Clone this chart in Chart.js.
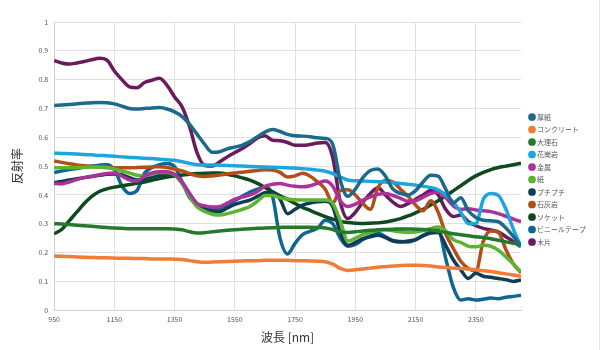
<!DOCTYPE html>
<html>
<head>
<meta charset="utf-8">
<script src="https://cdn.jsdelivr.net/npm/chart.js@4.4.1/dist/chart.umd.min.js"></script>
<style>
  html, body { margin: 0; padding: 0; background: #fff; }
  #wrap { width: 600px; height: 350px; position: relative; box-sizing: border-box; border-right: 1px solid #e4e4e4; }
</style>
</head>
<body>
<div id="wrap"><canvas id="spectra_chart" width="600" height="350"></canvas></div>
<script>
// wavelength grid (nm), 25 nm steps
let wavelengths = []
for (let w = 950; w <= 2500; w += 25) wavelengths.push(w)

let xTicks = [950, 1150, 1350, 1550, 1750, 1950, 2150, 2350]

let names = ['厚紙', 'コンクリート', '大理石', '花崗岩', '金属', '紙', 'プチプチ', '石灰岩', 'ソケット', 'ビニールテープ', '木片']
let colors = ['#1b6a8a', '#f07c35', '#24792d', '#1ca6dd', '#ad319b', '#5cb432', '#103c56', '#b04f17', '#0e4a1d', '#0f6690', '#6a1b5e']

let atsugami = [.710, .712, .714, .716, .718, .720, .721, .720, .716, .708, .700, .698, .700, .702, .703, .698, .688, .672, .645, .610, .575, .548, .550, .560, .566, .573, .585, .602, .618, .627, .620, .610, .605, .604, .602, .598, .596, .575, .451, .395, .420, .460, .485, .490, .465, .420, .405, .400, .415, .445, .468, .465, .420, .372, .390, .345, .322, .312, .310, .307, .285, .255, .225]
let concrete = [.188, .187, .186, .185, .184, .183, .182, .182, .181, .180, .180, .179, .179, .178, .178, .178, .177, .176, .172, .168, .166, .167, .168, .169, .170, .171, .172, .172, .173, .173, .173, .173, .172, .172, .171, .170, .168, .160, .145, .138, .140, .143, .146, .149, .151, .153, .155, .156, .156, .155, .153, .150, .148, .146, .145, .143, .140, .137, .134, .130, .126, .122, .118]
let marble = [.300, .299, .297, .295, .293, .291, .289, .287, .285, .284, .283, .283, .283, .283, .283, .283, .282, .279, .272, .268, .269, .272, .275, .277, .279, .281, .283, .284, .285, .286, .287, .288, .288, .288, .288, .287, .285, .280, .272, .270, .272, .275, .277, .279, .280, .281, .282, .282, .281, .280, .278, .274, .270, .265, .262, .258, .255, .252, .248, .243, .237, .232, .228]
let granite = [.545, .544, .543, .542, .540, .539, .537, .536, .534, .532, .530, .529, .527, .526, .524, .522, .520, .515, .509, .505, .504, .504, .503, .502, .501, .500, .499, .498, .497, .496, .495, .494, .493, .491, .489, .486, .482, .474, .462, .452, .449, .448, .447, .446, .445, .442, .440, .437, .434, .430, .426, .418, .400, .375, .340, .300, .300, .385, .405, .398, .350, .280, .220]
let metal = [.440, .438, .445, .453, .460, .465, .470, .474, .476, .465, .452, .448, .466, .476, .480, .480, .472, .445, .405, .370, .362, .358, .360, .372, .385, .393, .400, .412, .430, .437, .440, .434, .430, .428, .432, .440, .448, .430, .380, .360, .368, .382, .393, .402, .405, .398, .388, .378, .380, .392, .405, .410, .390, .362, .350, .352, .348, .345, .342, .335, .326, .316, .307]
let paper = [.494, .494, .494, .495, .496, .497, .497, .495, .490, .483, .476, .468, .466, .472, .478, .478, .470, .440, .395, .358, .343, .333, .330, .335, .342, .350, .360, .378, .398, .398, .390, .386, .383, .382, .382, .382, .382, .370, .310, .240, .250, .262, .270, .277, .279, .276, .272, .270, .271, .276, .283, .289, .275, .245, .235, .222, .220, .225, .222, .208, .185, .160, .133]
let bubble = [.443, .447, .452, .456, .460, .464, .468, .472, .473, .470, .460, .452, .455, .462, .468, .471, .468, .440, .402, .368, .352, .344, .342, .355, .367, .375, .382, .395, .408, .410, .385, .335, .350, .365, .372, .376, .378, .360, .270, .225, .235, .248, .255, .260, .252, .240, .237, .240, .245, .258, .268, .270, .225, .175, .140, .110, .128, .118, .114, .110, .106, .100, .105]
let limestone = [.518, .513, .508, .504, .501, .499, .497, .495, .494, .494, .494, .495, .496, .497, .498, .495, .490, .483, .474, .466, .464, .466, .469, .473, .476, .479, .482, .485, .487, .486, .478, .462, .466, .475, .465, .445, .420, .372, .415, .418, .400, .370, .350, .425, .450, .445, .420, .395, .365, .345, .380, .340, .265, .215, .170, .145, .135, .240, .275, .270, .210, .160, .130]
let socket = [.265, .280, .310, .340, .370, .395, .412, .421, .427, .432, .436, .440, .445, .451, .457, .462, .466, .469, .472, .474, .475, .476, .476, .472, .466, .459, .451, .440, .426, .411, .397, .384, .370, .357, .346, .335, .325, .316, .308, .304, .302, .301, .302, .303, .306, .311, .318, .327, .338, .350, .365, .380, .397, .414, .432, .450, .466, .478, .488, .495, .500, .505, .510]
let vinyl = [.478, .483, .488, .492, .496, .500, .503, .505, .488, .432, .405, .415, .475, .495, .505, .509, .498, .445, .390, .368, .360, .350, .352, .368, .380, .395, .410, .420, .428, .395, .250, .195, .232, .262, .274, .285, .312, .300, .250, .222, .228, .245, .258, .267, .255, .242, .238, .237, .245, .260, .272, .278, .180, .080, .035, .040, .035, .038, .042, .040, .045, .048, .052]
let wood = [.866, .858, .854, .858, .863, .869, .874, .868, .830, .800, .775, .772, .790, .798, .805, .780, .740, .705, .636, .545, .502, .500, .515, .532, .547, .561, .578, .598, .605, .590, .588, .582, .572, .572, .575, .580, .582, .530, .375, .318, .340, .375, .405, .425, .400, .375, .360, .370, .385, .400, .415, .400, .350, .325, .330, .307, .293, .284, .278, .272, .255, .238, .220]

let seriesValues = [atsugami, concrete, marble, granite, metal, paper, bubble, limestone, socket, vinyl, wood]

let font = "'Noto Sans CJK JP', 'Noto Sans', sans-serif"

let datasets = names.map((name, i) => ({
    label: name,
    data: wavelengths.map((w, j) => ({ x: w, y: seriesValues[i][j] })),
    borderColor: colors[i],
    backgroundColor: colors[i],
    borderWidth: 3.5,
    pointRadius: 0,
    cubicInterpolationMode: 'monotone'
}))

// nudge the legend a little, like the original
let legendShift = {
    id: 'legendShift',
    afterLayout(chart) {
        chart.legend.left += 4
        chart.legend.right += 4
        chart.legend.top -= 6
        chart.legend.bottom -= 6
    }
}

let ctx = document.querySelector('#spectra_chart').getContext('2d')

let spectra_chart = new Chart(ctx, {
    type: 'line',
    data: { datasets: datasets },
    plugins: [legendShift],
    options: {
        responsive: false,
        animation: false,
        layout: { padding: { left: 6, top: 22, right: 8, bottom: 1 } },
        plugins: {
            tooltip: { enabled: false },
            legend: {
                position: 'right',
                labels: {
                    usePointStyle: true,
                    pointStyle: 'circle',
                    boxWidth: 3,
                    boxHeight: 3,
                    padding: 5.5,
                    color: '#555',
                    font: { family: font, size: 7 }
                }
            }
        },
        scales: {
            x: {
                type: 'linear',
                min: 950,
                max: 2500,
                afterBuildTicks: axis => { axis.ticks = xTicks.map(v => ({ value: v })) },
                grid: { color: '#e0e0e0', drawTicks: false },
                border: { color: '#d0d0d0' },
                ticks: { autoSkip: false, maxRotation: 0, padding: 5, color: '#555', font: { family: font, size: 7 }, callback: v => String(v) },
                title: { display: true, text: '波長 [nm]', color: '#333', padding: { top: 2, bottom: 4 }, font: { family: font, size: 12 } }
            },
            y: {
                min: 0,
                max: 1,
                ticks: { stepSize: 0.1, padding: 6, color: '#555', font: { family: font, size: 7 }, callback: v => String(Math.round(v * 10) / 10) },
                grid: { color: '#e0e0e0', drawTicks: false },
                border: { color: '#d0d0d0' },
                title: { display: true, text: '反射率', color: '#333', padding: { top: 4, bottom: 8 }, font: { family: font, size: 12 } }
            }
        }
    }
})
</script>
</body>
</html>
